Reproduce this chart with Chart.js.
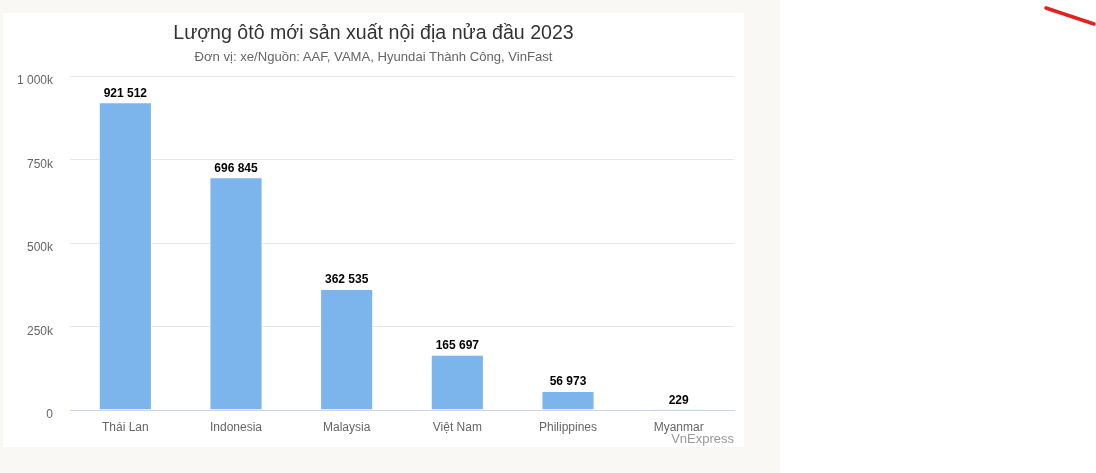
<!DOCTYPE html>
<html>
<head>
<meta charset="utf-8">
<script src="https://cdn.jsdelivr.net/npm/chart.js@4"></script>
<style>
  html, body { margin:0; padding:0; width:1096px; height:473px; background:#ffffff; overflow:hidden; font-family:"Liberation Sans", Arial, sans-serif; }
  #bg { position:absolute; left:0; top:0; width:780px; height:473px; background:#f9f8f4; }
  #card { position:absolute; left:3px; top:13px; width:741px; height:434px; background:#ffffff; }
  #title { position:absolute; left:0; width:741px; top:7px; text-align:center; font-size:19.6px; color:#333333; white-space:nowrap; line-height:24px; }
  #subtitle { position:absolute; left:0; width:741px; top:36px; text-align:center; font-size:13.1px; color:#666666; white-space:nowrap; line-height:16px; }
  #credits { position:absolute; right:10px; top:418px; font-size:13px; color:#999999; line-height:16px; }
  canvas { position:absolute; left:0; top:0; }
  #deco { position:absolute; left:1040px; top:0; }
</style>
</head>
<body>
<div id="bg"></div>
<div id="card">
  <canvas id="c" width="741" height="434"></canvas>
  <div id="title">Lượng ôtô mới sản xuất nội địa nửa đầu 2023</div>
  <div id="subtitle">Đơn vị: xe/Nguồn: AAF, VAMA, Hyundai Thành Công, VinFast</div>
  <div id="credits">VnExpress</div>
</div>
<svg id="deco" width="60" height="32"><line x1="6" y1="8" x2="54" y2="24" stroke="#e5211f" stroke-width="3.5" stroke-linecap="round"/></svg>
<script>
const categories = ["Thái Lan", "Indonesia", "Malaysia", "Việt Nam", "Philippines", "Myanmar"];
const values = [921512, 696845, 362535, 165697, 56973, 229];
const yTicks = [0, 250000, 500000, 750000, 1000000];
const yTickLabels = ["0", "250k", "500k", "750k", "1 000k"];

function fmt(v) { return String(v).replace(/\B(?=(\d{3})+(?!\d))/g, " "); }

const dataLabels = {
  id: 'dataLabels',
  afterDatasetsDraw(chart) {
    const ctx = chart.ctx;
    const meta = chart.getDatasetMeta(0);
    ctx.save();
    ctx.font = 'bold 12px "Liberation Sans", Arial, sans-serif';
    ctx.fillStyle = '#000000';
    ctx.textAlign = 'center';
    ctx.textBaseline = 'middle';
    meta.data.forEach((bar, i) => {
      ctx.fillText(fmt(values[i]), bar.x, bar.y - 9);
    });
    ctx.restore();
  }
};

new Chart(document.getElementById('c'), {
  type: 'bar',
  data: {
    labels: categories,
    datasets: [{
      data: values,
      backgroundColor: '#7cb5ec',
      borderColor: '#ffffff',
      borderWidth: 1,
      barPercentage: 0.48,
      categoryPercentage: 1
    }]
  },
  options: {
    responsive: false,
    animation: false,
    devicePixelRatio: 1,
    layout: { padding: { top: 63, left: 0, right: 10, bottom: 0 } },
    plugins: { legend: { display: false }, tooltip: { enabled: false }, title: { display: false } },
    scales: {
      x: {
        grid: { display: false },
        border: { display: true, color: '#ccd6eb', width: 1 },
        ticks: { color: '#666666', font: { size: 12, family: '"Liberation Sans", Arial, sans-serif' }, padding: 2, maxRotation: 0 },
        afterFit(s) { s.height = 37; }
      },
      y: {
        min: 0, max: 1000000,
        afterBuildTicks(s) { s.ticks = yTicks.map(v => ({ value: v })); },
        grid: { color: '#e6e6e6', drawTicks: false },
        border: { display: false },
        ticks: {
          color: '#666666', padding: 17, labelOffset: 5,
          font: { size: 12, family: '"Liberation Sans", Arial, sans-serif' },
          callback(v) { const i = yTicks.indexOf(v); return i >= 0 ? yTickLabels[i] : ''; }
        },
        afterFit(s) { s.width = 67; }
      }
    }
  },
  plugins: [dataLabels]
});
</script>
</body>
</html>
